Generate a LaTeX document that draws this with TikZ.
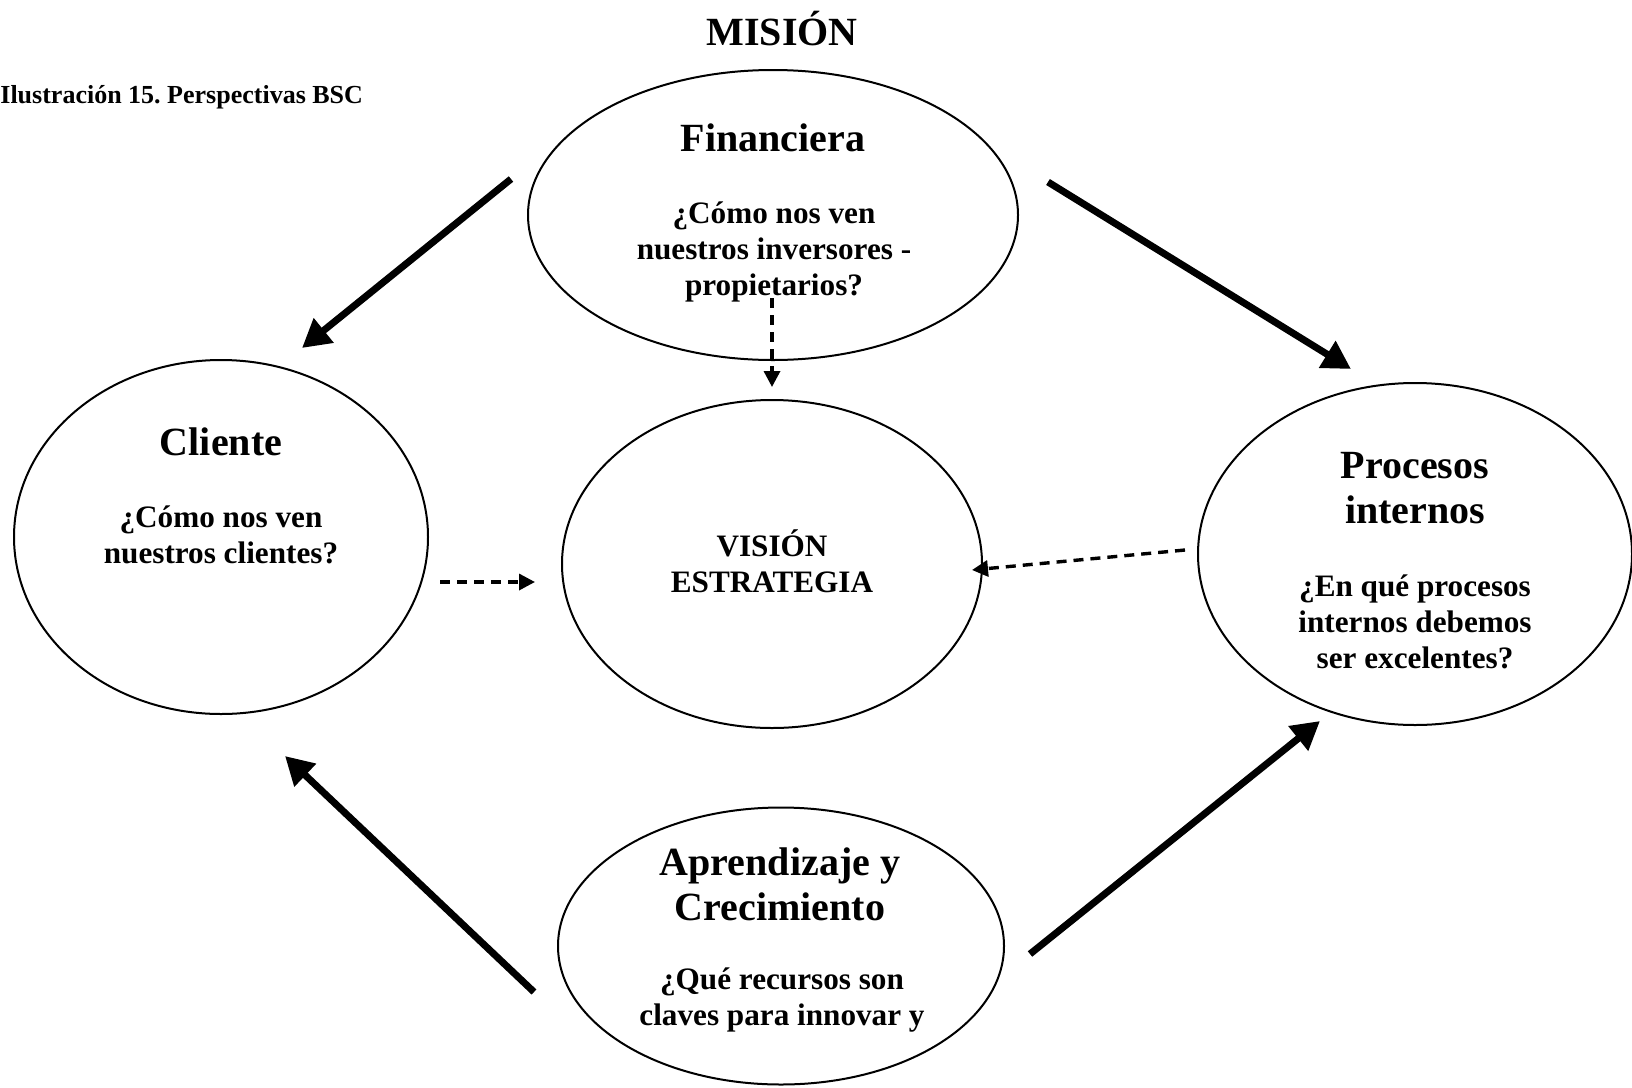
\documentclass[tikz,border=0pt]{standalone}
\usepackage{fontspec}
\setmainfont{Liberation Serif}
\usetikzlibrary{shapes.geometric,arrows.meta}
\frenchspacing
\begin{document}
\begin{tikzpicture}[x=0.5pt,y=-0.5pt,
  persp/.style={draw,ellipse,line width=1pt,inner sep=0pt,outer sep=0pt},
  ttl/.style={font=\fontsize{20}{22.5}\selectfont\bfseries,align=center,inner sep=0pt},
  txt/.style={font=\fontsize{15.6}{18}\selectfont\bfseries,align=center,inner sep=0pt},
  bigarrow/.style={line width=3.5pt,-{Triangle[length=14pt,width=15pt]}},
  dasharrow/.style={line width=1.7pt,dash pattern=on 5pt off 3.5pt,-{Triangle[length=8pt,width=8pt]}}]
\useasboundingbox (0,0) rectangle (1632,1087);

% perspective ellipses
\node[persp,minimum width=245pt,minimum height=145pt] (fin) at (773,215) {};
\node[persp,minimum width=207pt,minimum height=177pt] (cli) at (221,537) {};
\node[persp,minimum width=210pt,minimum height=164pt] (vis) at (772,564) {};
\node[persp,minimum width=217pt,minimum height=171pt] (pro) at (1415,554) {};
\node[persp,minimum width=223pt,minimum height=138.5pt] (apr) at (781,946) {};

% headings
\node[ttl] (mision) at (782,29) {MISIÓN};
\node[font=\fontsize{13}{15}\selectfont\bfseries,anchor=west,inner sep=0pt] (capt) at (0,97) {Ilustración 15. Perspectivas BSC};

% texts inside the ellipses
\node[ttl] (finT) at (773,138) {Financiera};
\node[txt] (finQ) at (774,252) {¿Cómo nos ven\\nuestros inversores -\\propietarios?};
\node[ttl] (cliT) at (221,442) {Cliente};
\node[txt] (cliQ) at (221,535) {¿Cómo nos ven\\nuestros clientes?};
\node[txt] (visT) at (772,561) {VISIÓN\\ESTRATEGIA};
\node[ttl] (proT) at (1415,488) {Procesos\\internos};
\node[txt] (proQ) at (1415,622) {¿En qué procesos\\internos debemos\\ser excelentes?};
\node[ttl] (aprT) at (780,884) {Aprendizaje y\\Crecimiento};
\node[txt] (aprQ) at (782,1000) {¿Qué recursos son\\claves para innovar y};

% arrow end points
\coordinate (fcA) at (511,179);  \coordinate (fcB) at (302,348);
\coordinate (fpA) at (1048,182); \coordinate (fpB) at (1351,369);
\coordinate (acA) at (534,992);  \coordinate (acB) at (285,756);
\coordinate (apA) at (1030,954); \coordinate (apB) at (1320,721);
\coordinate (fvA) at (772,298);  \coordinate (fvB) at (772,387);
\coordinate (cvA) at (440,582);  \coordinate (cvB) at (535,582);
\coordinate (pvA) at (1185,550); \coordinate (pvB) at (972,570);

% cause-effect arrows
\draw[bigarrow] (fcA) -- (fcB);
\draw[bigarrow] (fpA) -- (fpB);
\draw[bigarrow] (acA) -- (acB);
\draw[bigarrow] (apA) -- (apB);

% links to vision / strategy
\draw[dasharrow] (fvA) -- (fvB);
\draw[dasharrow] (cvA) -- (cvB);
\draw[dasharrow] (pvA) -- (pvB);
\end{tikzpicture}
\end{document}
